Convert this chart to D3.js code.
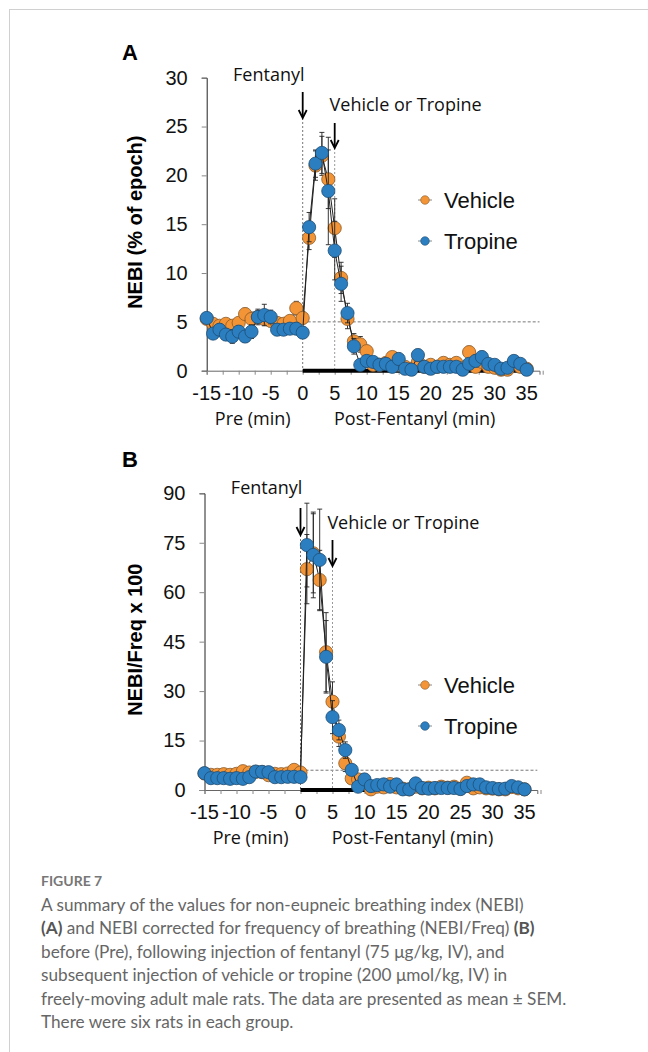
<!DOCTYPE html>
<html>
<head>
<meta charset="utf-8">
<script src="https://cdn.jsdelivr.net/npm/d3@7"></script>
<style>
  body { margin: 0; background: #fff; }
  svg { display: block; }
</style>
</head>
<body>
<svg id="fig" width="648" height="1052"></svg>
<script>
// minutes: Pre -15..0, Post 1..35
const minutes = d3.range(-15, 36);
const xTickLabels = [-15, -10, -5, 0, 5, 10, 15, 20, 25, 30, 35];
const seriesNames = ['Vehicle', 'Tropine'];

// Panel A: NEBI (% of epoch)
const nebiVehicle = [5.3, 4.8, 4.6, 4.8, 4.6, 4.9, 5.8, 5.3, 5.5, 5.3, 5.1, 4.9, 4.8, 5.1, 6.4, 5.4,
  13.6, 21.0, 22.0, 19.6, 14.6, 9.5, 5.3, 3.0, 2.7, 2.0, 0.6, 0.6, 0.8, 1.4, 0.6, 0.4, 0.2, 0.9, 0.4, 0.6,
  0.4, 0.8, 0.6, 0.8, 0.3, 1.9, 0.4, 0.9, 0.4, 0.3, 0.1, 0.1, 0.8, 0.4, 0.2];
const nebiVehicleSem = [0.4, 0.5, 0.5, 0.5, 0.5, 0.5, 0.6, 0.7, 0.6, 0.5, 0.6, 0.5, 0.5, 0.5, 0.7, 0.6,
  1.2, 1.5, 2.0, 3.0, 3.0, 1.6, 1.0, 0.8, 0.8, 0.6, 0.3, 0.3, 0.4, 0.5, 0.3, 0.2, 0.1, 0.5, 0.2, 0.3,
  0.2, 0.4, 0.3, 0.4, 0.2, 0.6, 0.2, 0.5, 0.2, 0.2, 0.1, 0.1, 0.4, 0.2, 0.1];
const nebiTropine = [5.4, 3.8, 4.2, 3.7, 3.5, 4.0, 3.5, 4.0, 5.5, 5.7, 5.5, 4.2, 4.2, 4.3, 4.3, 3.9,
  14.7, 21.2, 22.3, 18.4, 12.3, 8.9, 5.9, 2.5, 0.6, 1.0, 0.9, 0.6, 0.7, 0.4, 1.2, 0.2, 0.1, 1.6, 0.4, 0.2,
  0.4, 0.4, 0.4, 0.4, 0.1, 0.7, 1.0, 1.4, 0.7, 0.6, 0.2, 0.3, 1.0, 0.7, 0.1];
const nebiTropineSem = [0.5, 0.5, 0.6, 0.6, 0.7, 0.6, 0.6, 0.7, 0.8, 1.1, 0.7, 0.6, 0.5, 0.5, 0.6, 0.6,
  1.5, 1.4, 2.1, 5.5, 3.0, 1.8, 1.0, 0.8, 0.3, 0.5, 0.5, 0.3, 0.4, 0.2, 0.6, 0.1, 0.1, 0.6, 0.2, 0.1,
  0.2, 0.2, 0.2, 0.2, 0.1, 0.4, 0.6, 0.6, 0.4, 0.3, 0.1, 0.2, 0.4, 0.3, 0.1];

// Panel B: NEBI/Freq x 100
const freqVehicle = [5.0, 4.6, 4.6, 4.8, 4.6, 4.9, 5.7, 5.3, 5.5, 5.4, 4.5, 4.9, 4.8, 5.0, 6.1, 5.3,
  67.0, 71.8, 63.7, 41.8, 26.8, 16.2, 8.1, 3.5, 3.2, 2.0, 0.2, 1.0, 0.8, 1.8, 0.8, 0.4, 0.2, 1.0, 0.5, 0.7,
  0.5, 1.0, 0.7, 1.0, 0.4, 2.2, 0.5, 0.8, 0.5, 0.4, 0.2, 0.2, 0.9, 0.5, 0.2];
const freqVehicleSem = [0.6, 0.7, 0.7, 0.7, 0.7, 0.7, 0.8, 0.8, 0.8, 0.7, 0.7, 0.7, 0.7, 0.7, 0.9, 0.8,
  10.5, 12.0, 9.0, 12.0, 6.0, 3.0, 2.5, 1.5, 1.5, 1.0, 0.3, 0.5, 0.4, 0.6, 0.4, 0.2, 0.1, 0.5, 0.3, 0.4,
  0.3, 0.5, 0.4, 0.5, 0.2, 0.8, 0.3, 0.4, 0.3, 0.2, 0.1, 0.1, 0.4, 0.3, 0.1];
const freqTropine = [5.1, 3.6, 3.6, 3.6, 3.4, 3.6, 3.4, 3.9, 5.6, 5.5, 5.4, 3.9, 3.9, 4.0, 4.0, 3.9,
  74.3, 71.3, 69.8, 40.4, 22.1, 18.2, 12.1, 6.1, 1.0, 3.2, 1.2, 1.5, 1.7, 1.0, 1.7, 0.2, 0.2, 2.0, 0.6, 0.4,
  0.6, 0.6, 0.6, 0.6, 0.3, 1.2, 1.7, 1.7, 0.8, 0.6, 0.3, 0.4, 1.2, 0.8, 0.2];
const freqTropineSem = [0.6, 0.6, 0.6, 0.6, 0.6, 0.6, 0.6, 0.7, 0.8, 0.8, 0.8, 0.6, 0.6, 0.6, 0.6, 0.6,
  12.7, 13.0, 15.4, 11.0, 5.0, 3.0, 2.5, 1.5, 0.5, 1.5, 0.5, 0.6, 0.6, 0.5, 0.6, 0.1, 0.1, 0.7, 0.3, 0.2,
  0.3, 0.3, 0.3, 0.3, 0.1, 0.5, 0.6, 0.6, 0.4, 0.3, 0.1, 0.2, 0.5, 0.4, 0.1];

const colors = { Vehicle: '#f39436', Tropine: '#2b7fc0' };
const strokes = { Vehicle: '#8a5a2a', Tropine: '#1f4d73' };
const annoFont = '"Open Sans", sans-serif';
const axisFont = '"Liberation Sans", Arial, sans-serif';

const svg = d3.select('#fig');

// page frame
svg.append('line').attr('x1', 9).attr('x2', 648).attr('y1', 9.5).attr('y2', 9.5).attr('stroke', '#d0d0d0');
svg.append('line').attr('x1', 9.5).attr('x2', 9.5).attr('y1', 9).attr('y2', 1052).attr('stroke', '#d0d0d0');

function drawPanel(p) {
    const g = svg.append('g');
    const x = d3.scaleLinear().domain([-15, 37]).range([p.x0, p.x0 + 52 * 6.4]);
    const y = d3.scaleLinear().domain([0, p.yMax]).range([p.yBottom, p.yTop]);

    // panel letter
    g.append('text').attr('x', 122).attr('y', p.letterY).text(p.letter)
        .attr('font-family', axisFont).attr('font-weight', 'bold').attr('font-size', '22px');

    // y axis
    const yAxis = g.append('g').attr('transform', `translate(${x(-15)},0)`)
        .call(d3.axisLeft(y).tickValues(p.yTicks).tickSize(5).tickPadding(14).tickFormat(d => d));
    yAxis.select('.domain').attr('stroke', '#222');
    yAxis.selectAll('.tick line').attr('stroke', '#888');
    yAxis.selectAll('.tick text').attr('font-family', axisFont).attr('font-size', '20px').attr('fill', '#111');

    // x axis
    const xAxis = g.append('g').attr('transform', `translate(0,${y(0)})`)
        .call(d3.axisBottom(x).tickValues(d3.range(-15, 37.6, 2.5)).tickSize(4).tickFormat(''));
    xAxis.select('.domain').attr('stroke', '#666');
    xAxis.selectAll('.tick line').attr('stroke', '#888');
    g.selectAll('.xlab').data(xTickLabels).enter().append('text')
        .attr('x', d => x(d)).attr('y', y(0) + 29)
        .attr('text-anchor', 'middle').attr('font-family', axisFont).attr('font-size', '20px').attr('fill', '#111')
        .text(d => String(d));
    g.append('text').attr('x', x(-7.8)).attr('y', y(0) + 54).attr('text-anchor', 'middle')
        .attr('font-family', annoFont).attr('font-size', '18px').attr('fill', '#111').text('Pre (min)');
    g.append('text').attr('x', x(17.5)).attr('y', y(0) + 54).attr('text-anchor', 'middle')
        .attr('font-family', annoFont).attr('font-size', '18px').attr('fill', '#111').text('Post-Fentanyl (min)');

    // y title
    g.append('text')
        .attr('transform', `translate(142,${(p.yTop + p.yBottom) / 2 - 2}) rotate(-90)`)
        .attr('text-anchor', 'middle').attr('font-family', axisFont).attr('font-weight', 'bold')
        .attr('font-size', '20px').text(p.yTitle);

    // reference lines
    g.append('line').attr('x1', x(0)).attr('x2', x(37)).attr('y1', y(p.refLine)).attr('y2', y(p.refLine))
        .attr('stroke', '#777').attr('stroke-dasharray', '3,2');
    g.append('line').attr('x1', x(0)).attr('x2', x(0)).attr('y1', p.arrow1[1]).attr('y2', y(0))
        .attr('stroke', '#777').attr('stroke-dasharray', '2,2');
    g.append('line').attr('x1', x(5)).attr('x2', x(5)).attr('y1', p.arrow2[1]).attr('y2', y(0))
        .attr('stroke', '#999').attr('stroke-dasharray', '2,2');

    // treatment bar on x axis
    g.append('line').attr('x1', x(0)).attr('x2', x(35)).attr('y1', y(0)).attr('y2', y(0))
        .attr('stroke', '#000').attr('stroke-width', 4);

    // arrows and labels
    [[0, p.arrow1], [5, p.arrow2]].forEach(([m, a]) => {
        const ax = x(m);
        g.append('line').attr('x1', ax).attr('x2', ax).attr('y1', a[0]).attr('y2', a[1] - 1)
            .attr('stroke', '#000').attr('stroke-width', 1.8);
        g.append('path').attr('d', `M${ax - 4},${a[1] - 8} L${ax},${a[1]} L${ax + 4},${a[1] - 8}`)
            .attr('fill', 'none').attr('stroke', '#000').attr('stroke-width', 1.8);
    });
    g.append('text').attr('x', x(-5.3)).attr('y', p.fentY).attr('text-anchor', 'middle')
        .attr('font-family', annoFont).attr('font-size', '18px').attr('fill', '#111').text('Fentanyl');
    g.append('text').attr('x', x(4.2)).attr('y', p.vehY)
        .attr('font-family', annoFont).attr('font-size', '18px').attr('fill', '#111').text('Vehicle or Tropine');

    // series
    seriesNames.forEach((name, si) => {
        const vals = p.values[si], sem = p.sem[si];
        const pts = minutes.map((m, i) => ({ m, v: vals[i], e: sem[i] }));
        const sg = g.append('g');
        sg.append('path').datum(pts)
            .attr('d', d3.line().x(d => x(d.m)).y(d => y(d.v)))
            .attr('fill', 'none').attr('stroke', '#222').attr('stroke-width', 1);
        const eb = sg.selectAll('.eb').data(pts).enter().append('g').attr('stroke', '#222').attr('stroke-width', 0.9);
        eb.append('line').attr('x1', d => x(d.m)).attr('x2', d => x(d.m))
            .attr('y1', d => y(d.v + d.e)).attr('y2', d => y(Math.max(0, d.v - d.e)));
        eb.append('line').attr('x1', d => x(d.m) - 2.5).attr('x2', d => x(d.m) + 2.5)
            .attr('y1', d => y(d.v + d.e)).attr('y2', d => y(d.v + d.e));
        eb.append('line').attr('x1', d => x(d.m) - 2.5).attr('x2', d => x(d.m) + 2.5)
            .attr('y1', d => y(Math.max(0, d.v - d.e))).attr('y2', d => y(Math.max(0, d.v - d.e)));
        sg.selectAll('circle').data(pts).enter().append('circle')
            .attr('cx', d => x(d.m)).attr('cy', d => y(d.v)).attr('r', 6.6)
            .attr('fill', colors[name]).attr('stroke', strokes[name]).attr('stroke-width', 0.8);

        // legend
        const ly = p.legendY + si * 41;
        g.append('line').attr('x1', 418).attr('x2', 432).attr('y1', ly).attr('y2', ly).attr('stroke', '#888');
        g.append('circle').attr('cx', 425).attr('cy', ly).attr('r', 4.3)
            .attr('fill', colors[name]).attr('stroke', strokes[name]).attr('stroke-width', 0.6);
        g.append('text').attr('x', 444).attr('y', ly + 8).attr('font-family', axisFont)
            .attr('font-size', '22px').attr('fill', '#111').text(name);
    });
}

drawPanel({
    letter: 'A', letterY: 60, x0: 206.7, yTop: 77.7, yBottom: 370.7, yMax: 30,
    yTicks: d3.range(0, 31, 5), yTitle: 'NEBI (% of epoch)', refLine: 5,
    arrow1: [92, 118], arrow2: [123, 148], fentY: 81, vehY: 111, legendY: 200,
    values: [nebiVehicle, nebiTropine], sem: [nebiVehicleSem, nebiTropineSem]
});
drawPanel({
    letter: 'B', letterY: 467, x0: 204.5, yTop: 493.3, yBottom: 790, yMax: 90,
    yTicks: d3.range(0, 91, 15), yTitle: 'NEBI/Freq x 100', refLine: 6,
    arrow1: [508, 535], arrow2: [540, 566], fentY: 494, vehY: 529, legendY: 685,
    values: [freqVehicle, freqTropine], sem: [freqVehicleSem, freqTropineSem]
});

// caption
const captionLines = [
    'A summary of the values for non-eupneic breathing index (NEBI)',
    '(A) and NEBI corrected for frequency of breathing (NEBI/Freq) (B)',
    'before (Pre), following injection of fentanyl (75 \u03bcg/kg, IV), and',
    'subsequent injection of vehicle or tropine (200 \u03bcmol/kg, IV) in',
    'freely-moving adult male rats. The data are presented as mean \u00b1 SEM.',
    'There were six rats in each group.'
];
svg.append('text').attr('x', 41).attr('y', 886).attr('font-family', 'Lato, sans-serif')
    .attr('font-size', '14px').attr('font-weight', 'bold').attr('fill', '#777').text('FIGURE 7');
captionLines.forEach((line, i) => {
    const t = svg.append('text').attr('x', 41).attr('y', 911 + i * 23.4)
        .attr('font-family', 'Lato, sans-serif').attr('font-size', '17.2px').attr('fill', '#666');
    const m = line.match(/^(\(A\))(.*?)(\(B\))?$/);
    if (i === 1 && m) {
        t.append('tspan').attr('font-weight', 'bold').attr('fill', '#555').text(m[1]);
        t.append('tspan').text(m[2]);
        t.append('tspan').attr('font-weight', 'bold').attr('fill', '#555').text(m[3]);
    } else {
        t.text(line);
    }
});
</script>
</body>
</html>
